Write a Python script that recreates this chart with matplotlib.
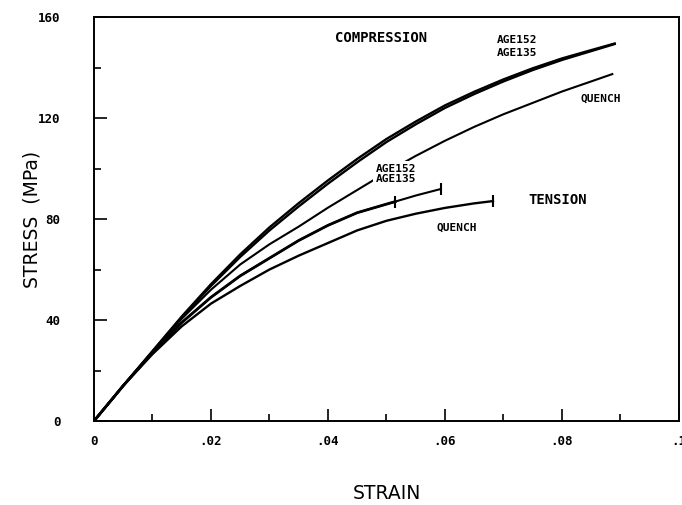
import matplotlib
matplotlib.use("Agg")
import matplotlib.pyplot as plt
from matplotlib.ticker import MultipleLocator, FixedLocator

# strain / stress (MPa)
comp_strain = [0, .005, .01, .015, .02, .025, .03, .035, .04, .045, .05, .055,
               .06, .065, .07, .075, .08, .085, .089]
comp_age135 = [0, 14, 27.5, 41, 53.5, 65, 75.5, 85, 94, 102.5, 110.5, 117.5,
               124, 129.5, 134.5, 139, 143, 146.5, 149.3]
comp_age152 = [0, 14, 27.7, 41.4, 54.2, 66, 76.7, 86.3, 95.3, 103.8, 111.7, 118.6,
               125, 130.4, 135.3, 139.7, 143.6, 146.9, 149.5]

compq_strain = [0, .005, .01, .015, .02, .025, .03, .035, .04, .045, .05, .055,
                .06, .065, .07, .075, .08, .085, .0886]
compq_stress = [0, 14, 27.5, 40.5, 52, 62, 70, 77, 84.5, 91.5, 98.5, 105,
                111, 116.5, 121.5, 126, 130.5, 134.5, 137.4]

tens135_strain = [0, .005, .01, .015, .02, .025, .03, .035, .04, .045, .05, .0515]
tens135_stress = [0, 14, 27, 39, 49, 57.5, 64.5, 71.5, 77.5, 82.5, 85.9, 86.9]
tens152_strain = tens135_strain + [.055, .0593]
tens152_stress = tens135_stress + [89.3, 91.9]

tensq_strain = [0, .005, .01, .015, .02, .025, .03, .035, .04, .045, .05, .055,
                .06, .065, .0682]
tensq_stress = [0, 14, 26.5, 37.5, 46.5, 53.5, 60, 65.5, 70.5, 75.5, 79.3, 82.1,
                84.4, 86.2, 87.1]

xticks = [0, .02, .04, .06, .08, .1]
xticklabels = ['0', '.02', '.04', '.06', '.08', '.1']
yticks = [0, 40, 80, 120, 160]

fig = plt.figure(figsize=(6.82, 5.05), dpi=100)
ax = fig.add_axes([0.1378, 0.1663, 0.8578, 0.80])

lw = 1.7
ax.plot(comp_strain, comp_age135, 'k-', lw=lw)
ax.plot(comp_strain, comp_age152, 'k-', lw=lw)
ax.plot(compq_strain, compq_stress, 'k-', lw=1.5)
ax.plot(tens152_strain, tens152_stress, 'k-', lw=1.5, marker='|', markevery=[-1],
        markersize=9, mew=1.5)
ax.plot(tens135_strain, tens135_stress, 'k-', lw=2.0, marker='|', markevery=[-1],
        markersize=9, mew=1.5)
ax.plot(tensq_strain, tensq_stress, 'k-', lw=lw, marker='|', markevery=[-1],
        markersize=9, mew=1.5)

ax.set_xlim(0, 0.1)
ax.set_ylim(0, 160)
ax.xaxis.set_major_locator(FixedLocator(xticks))
ax.set_xticklabels(xticklabels)
ax.xaxis.set_minor_locator(MultipleLocator(0.01))
ax.yaxis.set_major_locator(FixedLocator(yticks))
ax.yaxis.set_minor_locator(MultipleLocator(20))
ax.tick_params(which='major', direction='in', length=9, width=1.2,
               labelsize=9)
ax.tick_params(which='minor', direction='in', length=5, width=1.2)
ax.tick_params(axis='x', pad=10)
ax.tick_params(axis='y', pad=24)
for lab in ax.get_xticklabels() + ax.get_yticklabels():
    lab.set_fontweight('bold')
    lab.set_family('DejaVu Sans Mono')
for s in ax.spines.values():
    s.set_linewidth(1.4)

ax.set_xlabel('STRAIN', fontsize=13.5)
ax.set_ylabel('STRESS  (MPa)', fontsize=13.5)
ax.xaxis.set_label_coords(0.5, -0.155)
ax.yaxis.set_label_coords(-0.089, 0.5)

bold = dict(fontweight='bold', family='DejaVu Sans Mono', color='k')
ax.text(.0412, 151.7, 'COMPRESSION', fontsize=10, va='center', **bold)
ax.text(.0689, 150.9, 'AGE152', fontsize=8, va='center', **bold)
ax.text(.0689, 145.7, 'AGE135', fontsize=8, va='center', **bold)
ax.text(.0831, 127.5, 'QUENCH', fontsize=8, va='center', **bold)
ax.text(.0482, 98.0, 'AGE152\nAGE135', fontsize=8, va='center', linespacing=1.0,
        zorder=5, bbox=dict(facecolor='white', edgecolor='none', pad=2), **bold)
ax.text(.0742, 87.5, 'TENSION', fontsize=10, va='center', **bold)
ax.text(.0586, 76.4, 'QUENCH', fontsize=8, va='center', **bold)

fig.savefig('out.png', dpi=100)
